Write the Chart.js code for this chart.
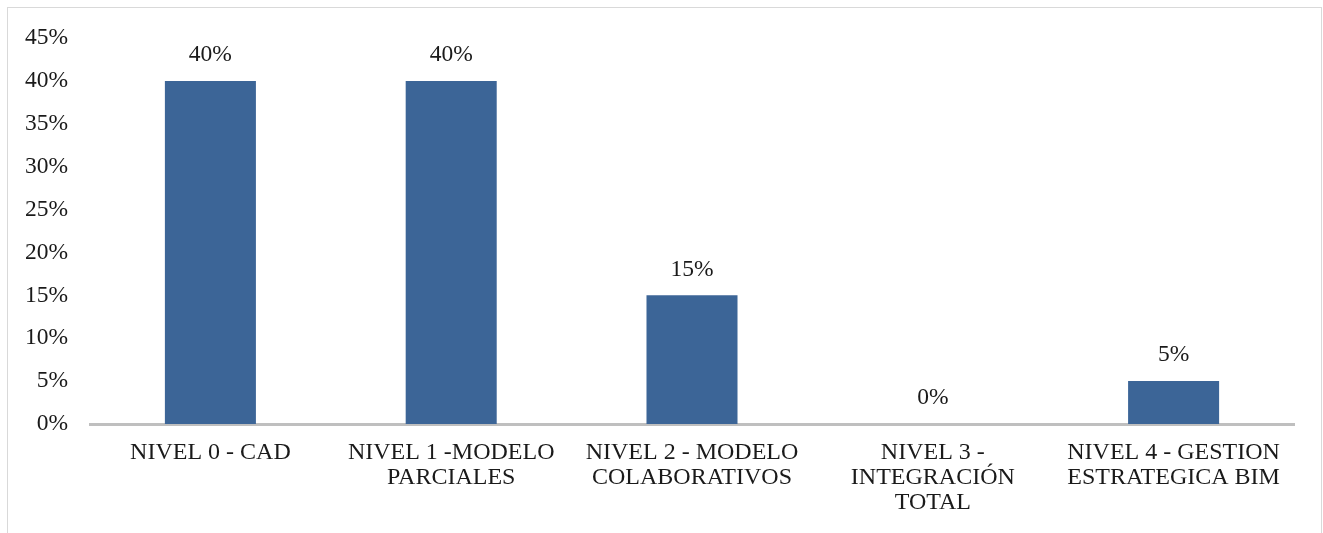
<!DOCTYPE html>
<html>
<head>
<meta charset="utf-8">
<script src="https://cdn.jsdelivr.net/npm/chart.js@4.4.1/dist/chart.umd.min.js"></script>
<style>
  html,body{margin:0;padding:0;background:#fff;}
  #frame{position:absolute;left:7px;top:7px;width:1315px;height:560px;border:1px solid #D9D9D9;box-sizing:border-box;}
  #wrap{position:absolute;left:0;top:0;width:1323px;height:533px;}
</style>
</head>
<body>
<div id="frame"></div>
<div id="wrap"><canvas id="c" width="1323" height="533"></canvas></div>
<script>
const categories = [
  ["NIVEL 0 - CAD"],
  ["NIVEL 1 -MODELO", "PARCIALES"],
  ["NIVEL 2 - MODELO", "COLABORATIVOS"],
  ["NIVEL 3 -", "INTEGRACIÓN", "TOTAL"],
  ["NIVEL 4 - GESTION", "ESTRATEGICA BIM"]
];
const values = [40, 40, 15, 0, 5];
const yTicks = [0, 5, 10, 15, 20, 25, 30, 35, 40, 45];

const FONT = "'Liberation Serif', 'Times New Roman', serif";
const TXT = '#1a1a1a';

const valueLabels = {
  id: 'valueLabels',
  afterDatasetsDraw(chart) {
    const ctx = chart.ctx;
    const meta = chart.getDatasetMeta(0);
    ctx.save();
    ctx.font = '23.5px ' + FONT;
    ctx.fillStyle = TXT;
    ctx.textAlign = 'center';
    ctx.textBaseline = 'middle';
    meta.data.forEach((bar, i) => {
      ctx.fillText(values[i] + '%', bar.x, bar.y - 26);
    });
    ctx.restore();
  }
};

new Chart(document.getElementById('c'), {
  type: 'bar',
  data: {
    labels: categories,
    datasets: [{
      data: values,
      backgroundColor: '#3C6597',
      borderWidth: 0,
      categoryPercentage: 1,
      barPercentage: 0.378
    }]
  },
  options: {
    responsive: false,
    animation: false,
    plugins: { legend: { display: false }, tooltip: { enabled: false } },
    layout: { padding: { top: 38, right: 29, left: 0, bottom: 0 } },
    scales: {
      x: {
        grid: { display: false, drawTicks: false },
        border: { display: true, color: '#BFBFBF', width: 3 },
        ticks: { color: TXT, font: { family: FONT, size: 24, lineHeight: 1.05 }, padding: 16, maxRotation: 0, autoSkip: false },
        afterFit: s => { s.height = 109; }
      },
      y: {
        min: 0, max: 45,
        afterBuildTicks: s => { s.ticks = yTicks.map(v => ({ value: v })); },
        grid: { display: false, drawTicks: false },
        border: { display: false },
        ticks: { color: TXT, font: { family: FONT, size: 23.5 }, padding: 22, callback: v => v + '%' },
        afterFit: s => { s.width = 90; }
      }
    }
  },
  plugins: [valueLabels]
});
</script>
</body>
</html>
